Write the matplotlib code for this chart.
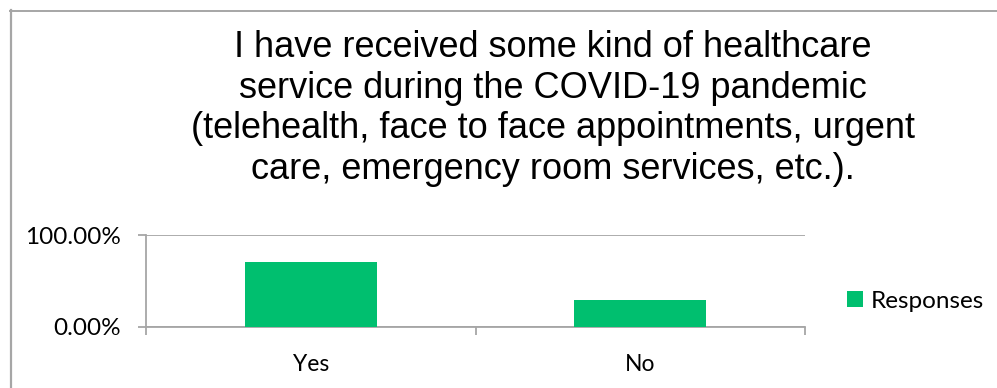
import numpy as np
import matplotlib.pyplot as plt
from matplotlib.lines import Line2D
from matplotlib.ticker import FixedLocator, FuncFormatter

categories = ['Yes', 'No']
responses = [0.71, 0.29]
title = ('I have received some kind of healthcare\n'
         'service during the COVID-19 pandemic\n'
         '(telehealth, face to face appointments, urgent\n'
         'care, emergency room services, etc.).')

W, H = 997, 388
fig = plt.figure(figsize=(W / 100, H / 100), dpi=100)
fig.patch.set_facecolor('white')

grey = '#A6A6A6'
green = '#00BF6F'
label_font = ['Lato', 'DejaVu Sans']

# plot area in pixel terms
x0, x1, ytop, ybot = 146, 805, 235, 326.7
ax = fig.add_axes([x0 / W, 1 - ybot / H, (x1 - x0) / W, (ybot - ytop) / H])

x = np.arange(len(categories))
ax.bar(x, responses, width=0.4, color=green, label='Responses', zorder=3)

ax.set_xlim(-0.5, len(categories) - 0.5)
ax.set_ylim(0, 1)

for side in ['top', 'right']:
    ax.spines[side].set_visible(False)
for side in ['left', 'bottom']:
    ax.spines[side].set_color(grey)
    ax.spines[side].set_linewidth(1.3)

ax.yaxis.set_major_locator(FixedLocator([0, 1]))
ax.yaxis.set_major_formatter(FuncFormatter(lambda v, _: f'{v * 100:.2f}%'))
ax.yaxis.grid(True, color=grey, linewidth=1.3, zorder=0)
ax.tick_params(axis='y', length=6, width=1.3, color=grey, pad=12,
               labelsize=17.5, labelcolor='black')

ax.set_xticks(x)
ax.set_xticklabels(categories)
ax.xaxis.set_minor_locator(FixedLocator(np.arange(-0.5, len(categories), 1.0)))
ax.tick_params(axis='x', which='major', length=0, pad=20, labelsize=16.5)
ax.tick_params(axis='x', which='minor', length=6, width=1.3, color=grey)

for lab in ax.get_xticklabels() + ax.get_yticklabels():
    lab.set_family(label_font)

fig.text(553 / W, 1 - 30 / H, title, ha='center', va='top', fontsize=26,
         family=['Liberation Sans', 'DejaVu Sans'], linespacing=1.21)

fig.legend(loc='center left', bbox_to_anchor=(825 / W, 1 - 301 / H),
           frameon=False, handlelength=0.65, handleheight=0.65,
           handletextpad=0.35, prop={'family': label_font, 'size': 17.5})

# outer chart-area border (left and top edges)
fig.add_artist(Line2D([11 / W, 11 / W], [0, 1 - 10 / H], color=grey,
                      linewidth=1.6, transform=fig.transFigure))
fig.add_artist(Line2D([10 / W, 1], [1 - 10.5 / H, 1 - 10.5 / H], color=grey,
                      linewidth=1.4, transform=fig.transFigure))

fig.savefig('out.png', dpi=100, facecolor='white')
